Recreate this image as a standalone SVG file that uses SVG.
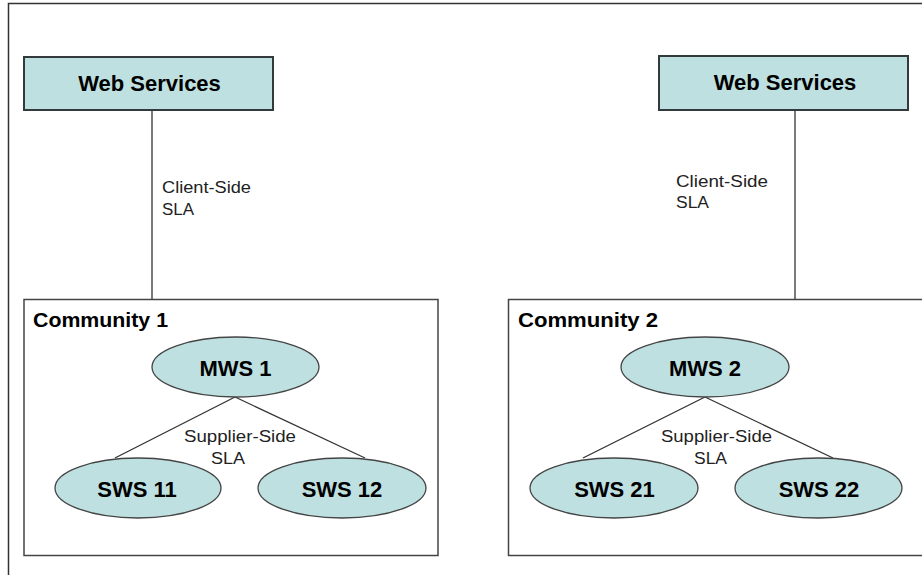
<svg xmlns="http://www.w3.org/2000/svg" width="922" height="577" viewBox="0 0 922 577">
<style>
.frame{fill:none;stroke:#333;stroke-width:1.5}
.ws{fill:#bfe0e1;stroke:#333a3c;stroke-width:2}
.comm{fill:#fff;stroke:#444;stroke-width:1.5}
.ell{fill:#bfe0e1;stroke:#444;stroke-width:1.3}
.conn{stroke:#333;stroke-width:1.3;fill:none}
.b{font-family:"Liberation Sans",Arial,sans-serif;font-weight:bold;fill:#000}
.t{font-family:"Liberation Sans",Arial,sans-serif;fill:#222;font-size:16px}
</style>
<rect width="922" height="577" fill="#fff"/>
<path class="frame" d="M8.5 575 V3.5 H922"/>
<g id="community1">
<rect class="comm" x="24" y="299.5" width="414" height="256"/>
<text class="b" x="33" y="327" font-size="20" textLength="135" lengthAdjust="spacingAndGlyphs">Community 1</text>
</g>
<g id="community2">
<rect class="comm" x="508.5" y="299.5" width="420" height="256"/>
<text class="b" x="518" y="327" font-size="20" textLength="140" lengthAdjust="spacingAndGlyphs">Community 2</text>
</g>
<g id="connectors">
<line class="conn" x1="152" y1="110" x2="152" y2="299"/>
<line class="conn" x1="795" y1="110" x2="795" y2="299"/>
<line class="conn" x1="235" y1="397" x2="115" y2="458"/>
<line class="conn" x1="235" y1="397" x2="365" y2="458"/>
<line class="conn" x1="705" y1="397" x2="583" y2="458"/>
<line class="conn" x1="705" y1="397" x2="833" y2="458"/>
<text class="t" x="162" y="193" textLength="89" lengthAdjust="spacingAndGlyphs">Client-Side</text>
<text class="t" x="162" y="215" textLength="32" lengthAdjust="spacingAndGlyphs">SLA</text>
<text class="t" x="676" y="187" textLength="92" lengthAdjust="spacingAndGlyphs">Client-Side</text>
<text class="t" x="676" y="208" textLength="33" lengthAdjust="spacingAndGlyphs">SLA</text>
<text class="t" x="184" y="442" textLength="112" lengthAdjust="spacingAndGlyphs">Supplier-Side</text>
<text class="t" x="211" y="464" textLength="34" lengthAdjust="spacingAndGlyphs">SLA</text>
<text class="t" x="661" y="442" textLength="111" lengthAdjust="spacingAndGlyphs">Supplier-Side</text>
<text class="t" x="694" y="464" textLength="33" lengthAdjust="spacingAndGlyphs">SLA</text>
</g>
<g id="ws1">
<rect class="ws" x="24" y="57" width="249" height="53"/>
<text class="b" x="149.5" y="91" font-size="22" text-anchor="middle">Web Services</text>
</g>
<g id="ws2">
<rect class="ws" x="659" y="56" width="249" height="54"/>
<text class="b" x="785" y="90" font-size="22" text-anchor="middle">Web Services</text>
</g>
<g id="mws1">
<ellipse class="ell" cx="235.5" cy="367" rx="83.5" ry="30"/>
<text class="b" x="235.5" y="376" font-size="22" text-anchor="middle">MWS 1</text>
</g>
<g id="sws11">
<ellipse class="ell" cx="138" cy="488" rx="83" ry="30"/>
<text class="b" x="137" y="497" font-size="22" text-anchor="middle">SWS 11</text>
</g>
<g id="sws12">
<ellipse class="ell" cx="342" cy="488" rx="84" ry="30"/>
<text class="b" x="342" y="497" font-size="22" text-anchor="middle">SWS 12</text>
</g>
<g id="mws2">
<ellipse class="ell" cx="705" cy="367" rx="84" ry="30"/>
<text class="b" x="705" y="376" font-size="22" text-anchor="middle">MWS 2</text>
</g>
<g id="sws21">
<ellipse class="ell" cx="614" cy="488" rx="84" ry="30"/>
<text class="b" x="614.5" y="497" font-size="22" text-anchor="middle">SWS 21</text>
</g>
<g id="sws22">
<ellipse class="ell" cx="818.5" cy="488" rx="83.5" ry="30"/>
<text class="b" x="819" y="497" font-size="22" text-anchor="middle">SWS 22</text>
</g>
</svg>
